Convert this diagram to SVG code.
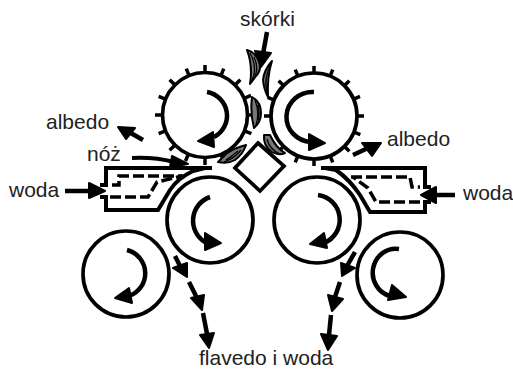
<svg xmlns="http://www.w3.org/2000/svg" width="513" height="369" viewBox="0 0 513 369">
<style>
.t{font-family:"Liberation Sans",Arial,sans-serif;font-size:21px;fill:#222}
.o{fill:none;stroke:#000;stroke-width:4}
.d{fill:none;stroke:#000;stroke-width:3.5;stroke-dasharray:11 4}
.r{fill:#fff;stroke:#000;stroke-width:3.7}
.a{fill:none;stroke:#000;stroke-width:4.5}
.h{fill:#000;stroke:#000;stroke-width:2;stroke-linejoin:round}
.k{stroke:#000;stroke-width:3.5;fill:none}
.s{fill:#777;stroke:#000;stroke-width:2;stroke-linejoin:round}
.l{fill:none;stroke:#000;stroke-width:1.3}
</style>
<defs>
<path id="tk" class="k" d="M0,-42V-50"/>
</defs>
<rect width="513" height="369" fill="#fff"/>
<g id="walec-gorny-lewy">
<g transform="translate(205,115)">
<use href="#tk"/><use href="#tk" transform="rotate(22)"/><use href="#tk" transform="rotate(45)"/><use href="#tk" transform="rotate(67)"/><use href="#tk" transform="rotate(90)"/><use href="#tk" transform="rotate(112)"/><use href="#tk" transform="rotate(180)"/><use href="#tk" transform="rotate(158)"/><use href="#tk" transform="rotate(203)"/><use href="#tk" transform="rotate(225)"/><use href="#tk" transform="rotate(248)"/><use href="#tk" transform="rotate(270)"/><use href="#tk" transform="rotate(292)"/><use href="#tk" transform="rotate(315)"/><use href="#tk" transform="rotate(338)"/>
</g>
<circle class="r" cx="205" cy="115" r="42.5"/>
<path class="a" d="M207,92A24,24 0 0 1 214,137"/>
<path class="h" d="M198,141L213,132L214,147Z"/>
</g>
<g id="walec-gorny-prawy">
<g transform="translate(314,116)">
<use href="#tk"/><use href="#tk" transform="rotate(22)"/><use href="#tk" transform="rotate(45)"/><use href="#tk" transform="rotate(67)"/><use href="#tk" transform="rotate(90)"/><use href="#tk" transform="rotate(112)"/><use href="#tk" transform="rotate(135)"/><use href="#tk" transform="rotate(158)"/><use href="#tk" transform="rotate(180)"/><use href="#tk" transform="rotate(202)"/><use href="#tk" transform="rotate(225)"/><use href="#tk" transform="rotate(270)"/><use href="#tk" transform="rotate(292)"/><use href="#tk" transform="rotate(315)"/><use href="#tk" transform="rotate(338)"/>
</g>
<circle class="r" cx="314" cy="116" r="43"/>
<path class="a" d="M314,92A26,25 0 0 0 311,142"/>
<path class="h" d="M325,143L309,134L309,150Z"/>
</g>
<g id="noz-lewy">
<path class="o" d="M100,185H106V168H212"/>
<path class="o" d="M100,197H106V210H158L170,190Q178,178 193,171L205,168"/>
<path class="d" d="M112,185H119V176H184"/>
<path class="d" d="M110,197H148L157,182L182,176"/>
</g>
<g id="noz-prawy">
<path class="o" d="M321,168H425V187H431"/>
<path class="o" d="M431,202H425V212H370L360,195Q350,180 336,170L325,168"/>
<path class="d" d="M351,177H410L412,187H420"/>
<path class="d" d="M420,202H376L368,188L353,177"/>
</g>
<g id="walec-dolny-lewy">
<circle class="r" cx="210" cy="220" r="43"/>
<path class="a" d="M210,197A25,25 0 0 0 205,242"/>
<path class="h" d="M221,243L205,233L205,250Z"/>
</g>
<g id="walec-dolny-prawy">
<circle class="r" cx="317" cy="220" r="43"/>
<path class="a" d="M318,195A25,25 0 0 1 324,243"/>
<path class="h" d="M310,244L324,233L327,248Z"/>
</g>
<g id="walec-boczny-lewy">
<circle class="r" cx="126" cy="274" r="43"/>
<path class="a" d="M127,250A24,24 0 0 1 129,296"/>
<path class="h" d="M115,298L129,288L132,303Z"/>
</g>
<g id="walec-boczny-prawy">
<circle class="r" cx="400" cy="275" r="43"/>
<path class="a" d="M399,249A23,24 0 0 0 390,296"/>
<path class="h" d="M406,297L392,285L388,300Z"/>
</g>
<g id="romb">
<path class="r" d="M258,143L284,166L260,191L235,168Z"/>
</g>
<g id="skorki-plaster">
<path class="s" d="M247,50Q255,52 259,61Q262,70 256,76Q253,80 250,84Q253,66 247,50Z"/>
<path class="l" d="M250,53Q258,68 252,80M254,57Q259,68 255,76"/>
<path class="s" d="M272,61Q264,70 263,80Q264,90 268,97Q267,76 272,61Z"/>
<path class="l" d="M270,66Q264,78 267,92M268,71Q265,80 266,87"/>
<path class="s" d="M252,97Q261,102 261,113Q261,122 254,128Q250,113 252,97Z"/>
<path class="l" d="M255,100Q260,113 256,125M258,105Q260,113 258,120"/>
<path class="s" d="M264,135Q263,146 272,152Q279,156 285,153Q276,148 270,135Z"/>
<path class="l" d="M267,139Q269,149 280,154"/>
<path class="s" d="M246,145Q234,148 226,154Q222,158 218,162Q228,164 235,160Q243,154 246,145Z"/>
<path class="l" d="M241,150Q235,158 224,162M238,151Q232,156 226,160"/>
</g>
<g id="polaczenia">
<path class="a" d="M267,32L263,54"/><path class="h" d="M261,67L255,51L271,53Z"/>
<path class="a" d="M143,140L129,132"/><path class="h" d="M118,127L135,128L126,139Z"/>
<path class="a" d="M353,155L368,148"/><path class="h" d="M381,143L362,143L372,156Z"/>
<path class="o" d="M132,158Q155,157 174,162"/><path class="h" d="M188,164L172,156L170,167Z"/>
<path class="a" d="M65,191H90"/><path class="h" d="M105,191L89,183V198Z"/>
<path class="a" d="M455,195H436"/><path class="h" d="M421,195L436,187V203Z"/>
<path class="a" d="M175,256L181,268"/><path class="h" d="M187,277L173,268L187,263Z"/>
<path class="a" d="M189,282L197,298"/><path class="h" d="M202,310L191,298L204,295Z"/>
<path class="a" d="M203,313L207,334"/><path class="h" d="M209,348L200,335L214,333Z"/>
<path class="a" d="M355,252L347,266"/><path class="h" d="M342,276L341,263L355,268Z"/>
<path class="a" d="M340,282L335,297"/><path class="h" d="M332,311L328,295L343,299Z"/>
<path class="a" d="M331,315L329,335"/><path class="h" d="M328,350L321,334L337,336Z"/>
</g>
<g id="etykiety">
<text class="t" x="240" y="26">skórki</text>
<text class="t" x="46" y="129">albedo</text>
<text class="t" x="87" y="161">nóż</text>
<text class="t" x="9" y="197">woda</text>
<text class="t" x="387" y="146">albedo</text>
<text class="t" x="463" y="200">woda</text>
<text class="t" x="199" y="365">flavedo i woda</text>
</g>
</svg>
